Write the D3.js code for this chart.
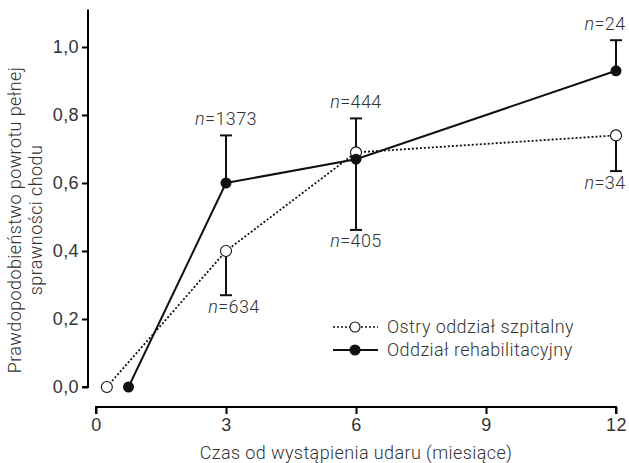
<!DOCTYPE html>
<html>
<head>
<meta charset="utf-8">
<script src="https://cdn.jsdelivr.net/npm/d3@7"></script>
<style>
  body { margin: 0; background: #fff; }
  svg { display: block; font-family: Roboto, "Liberation Sans", sans-serif; font-weight: 300; }
  text { fill: #333; letter-spacing: 0.4px; }
</style>
</head>
<body>
<svg id="chart" width="629" height="463"></svg>
<script>
// months after stroke
const months = [0, 3, 6, 12];
const xTicks = [0, 3, 6, 9, 12];
const yTicks = [0, 0.2, 0.4, 0.6, 0.8, 1.0];

// acute ward (open circles, dotted)
const acuteX = [0.25, 3, 6, 12];
const acuteY = [0.0, 0.40, 0.69, 0.74];
const acuteErr = [null, 0.27, null, 0.635];   // lower whisker end
const acuteN = [null, "634", null, "34"];

// rehabilitation ward (filled circles, solid)
const rehabX = [0.75, 3, 6, 12];
const rehabY = [0.0, 0.60, 0.67, 0.93];
const rehabErr = [null, 0.74, 0.79, 1.02];     // upper whisker end
const rehabN = [null, "1373", "444", "24"];

// the n=405 label belongs to the long lower whisker at 6 months
const extraErrX = [6];
const extraErrFrom = [0.67];
const extraErrTo = [0.462];
const extraN = ["405"];

const seriesNames = ["Ostry oddział szpitalny", "Oddział rehabilitacyjny"];

const FS = 18;
const svg = d3.select("#chart");
const x = d3.scaleLinear().domain([0, 12]).range([96, 616]);
const y = d3.scaleLinear().domain([0, 1]).range([387, 47]);

// y axis
const yAxis = d3.axisLeft(y).tickValues(yTicks).tickSize(6).tickPadding(3)
  .tickFormat(d => d3.format(".1f")(d).replace(".", ","));
const gy = svg.append("g").attr("transform", "translate(88,0)").call(yAxis);
gy.select(".domain").attr("d", `M0,${y(1.11)}V${y(0)}H-6`).attr("stroke-width", 2);
gy.selectAll(".tick line").attr("stroke-width", 2);
gy.selectAll(".tick text").attr("font-size", FS).attr("font-family", "inherit").attr("fill", "#333");

// x axis
const xAxis = d3.axisBottom(x).tickValues(xTicks).tickSize(7).tickPadding(4);
const gx = svg.append("g").attr("transform", "translate(0,407)").call(xAxis);
gx.select(".domain").attr("d", `M${x(0)},7V0H${x(12)}V7`).attr("stroke-width", 2);
gx.selectAll(".tick line").attr("stroke-width", 2);
gx.selectAll(".tick text").attr("font-size", FS).attr("font-family", "inherit").attr("fill", "#333");

// axis titles
svg.append("text")
  .attr("x", x(6)).attr("y", 459)
  .attr("text-anchor", "middle").attr("font-size", FS)
  .text("Czas od wystąpienia udaru (miesiące)");

const yt = svg.append("text")
  .attr("transform", "translate(0,220) rotate(-90)")
  .attr("text-anchor", "middle").attr("font-size", FS);
yt.append("tspan").attr("x", 0).attr("y", 21).text("Prawdopodobieństwo powrotu pełnej");
yt.append("tspan").attr("x", 0).attr("y", 42).text("sprawności chodu");

// error bars
function errBar(xv, from, to) {
  const g = svg.append("g").attr("stroke", "#111").attr("stroke-width", 2);
  g.append("line").attr("x1", x(xv)).attr("x2", x(xv)).attr("y1", y(from)).attr("y2", y(to));
  g.append("line").attr("x1", x(xv) - 6).attr("x2", x(xv) + 6).attr("y1", y(to)).attr("y2", y(to));
}
acuteErr.forEach((e, i) => { if (e != null) errBar(acuteX[i], acuteY[i], e); });
rehabErr.forEach((e, i) => { if (e != null) errBar(rehabX[i], rehabY[i], e); });
extraErrX.forEach((xv, i) => errBar(xv, extraErrFrom[i], extraErrTo[i]));

// lines
const line = d3.line().x(d => x(d[0])).y(d => y(d[1]));
svg.append("path")
  .datum(acuteX.map((v, i) => [v, acuteY[i]]))
  .attr("d", line).attr("fill", "none").attr("stroke", "#111")
  .attr("stroke-width", 1.8).attr("stroke-dasharray", "2,2");
svg.append("path")
  .datum(rehabX.map((v, i) => [v, rehabY[i]]))
  .attr("d", line).attr("fill", "none").attr("stroke", "#111")
  .attr("stroke-width", 2);

// points
svg.selectAll(".acute").data(acuteX).enter().append("circle")
  .attr("cx", d => x(d)).attr("cy", (d, i) => y(acuteY[i])).attr("r", 5.5)
  .attr("fill", "#fff").attr("stroke", "#111").attr("stroke-width", 1.1);
svg.selectAll(".rehab").data(rehabX).enter().append("circle")
  .attr("cx", d => x(d)).attr("cy", (d, i) => y(rehabY[i])).attr("r", 5.5)
  .attr("fill", "#111");

// n labels
function nLabel(xv, yv, txt, dx, dy) {
  const t = svg.append("text").attr("x", x(xv) + dx).attr("y", y(yv) + dy)
    .attr("text-anchor", "middle").attr("font-size", FS);
  t.append("tspan").attr("font-style", "italic").text("n");
  t.append("tspan").text("=" + txt);
}
acuteN.forEach((n, i) => { if (n) nLabel(acuteX[i], acuteErr[i], n, acuteX[i] === 12 ? -11 : 8, 18); });
rehabN.forEach((n, i) => { if (n) nLabel(rehabX[i], rehabErr[i], n, rehabX[i] === 12 ? -11 : 0, -10); });
extraErrX.forEach((xv, i) => nLabel(xv, extraErrTo[i], extraN[i], 0, 17));

// legend
const lg = svg.append("g").attr("transform", "translate(333,327)");
seriesNames.forEach((name, i) => {
  const row = lg.append("g").attr("transform", `translate(0,${i * 23})`);
  row.append("line").attr("x1", 0).attr("x2", 45).attr("y1", 0).attr("y2", 0)
    .attr("stroke", "#111").attr("stroke-width", i === 0 ? 1.6 : 2)
    .attr("stroke-dasharray", i === 0 ? "2,2" : null);
  row.append("circle").attr("cx", 22).attr("cy", 0).attr("r", 5)
    .attr("fill", i === 0 ? "#fff" : "#111").attr("stroke", "#111").attr("stroke-width", 1.1);
  row.append("text").attr("x", 54).attr("y", 0).attr("dy", "0.35em")
    .attr("font-size", FS).text(name);
});
</script>
</body>
</html>
